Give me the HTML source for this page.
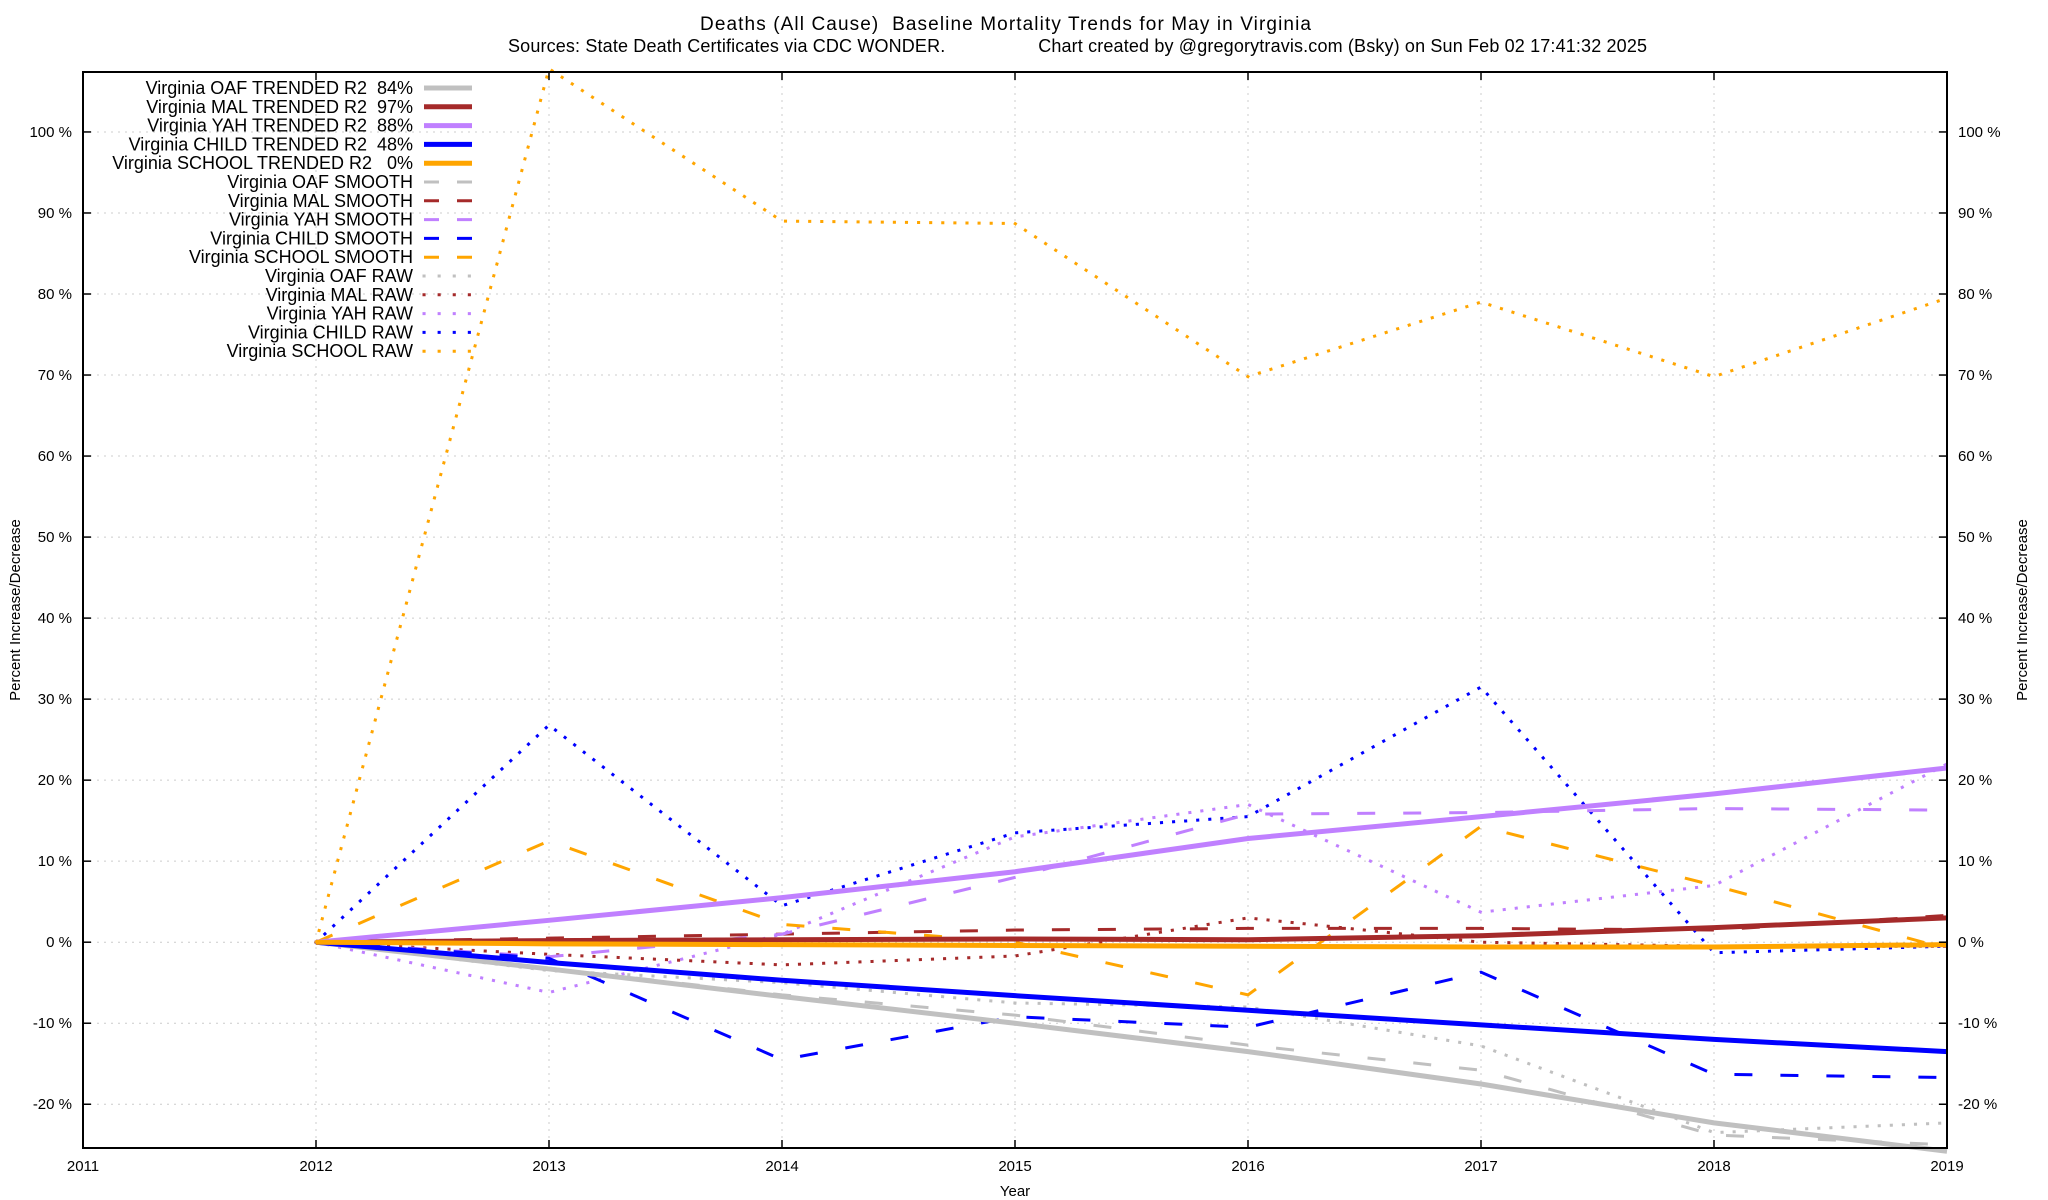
<!DOCTYPE html>
<html><head><meta charset="utf-8">
<style>
html,body{margin:0;padding:0;background:#fff;}
svg{display:block;font-family:"Liberation Sans",Arial,sans-serif;}
text{white-space:pre;}
</style></head>
<body>
<svg id="chart" width="2048" height="1200" viewBox="0 0 2048 1200" xmlns="http://www.w3.org/2000/svg">
<text x="700" y="30" font-size="19" textLength="611" lengthAdjust="spacing">Deaths (All Cause)  Baseline Mortality Trends for May in Virginia</text>
<text x="508" y="52" font-size="18" textLength="1139" lengthAdjust="spacing">Sources: State Death Certificates via CDC WONDER.                  Chart created by @gregorytravis.com (Bsky) on Sun Feb 02 17:41:32 2025</text>
<g id="grid"></g>
<g id="series"></g>
<rect x="83" y="72" width="1864" height="1076" fill="none" stroke="#000" stroke-width="2"/>
<g id="axes"></g>
<g id="legend"></g>
<text transform="translate(20,610) rotate(-90)" font-size="15" text-anchor="middle">Percent Increase/Decrease</text>
<text transform="translate(2027,610) rotate(-90)" font-size="15" text-anchor="middle">Percent Increase/Decrease</text>
<text x="1015" y="1196" font-size="15" text-anchor="middle">Year</text>
</svg>
<script>
const years = [2012,2013,2014,2015,2016,2017,2018,2019];
const xTicks = [2011,2012,2013,2014,2015,2016,2017,2018,2019];
const yTicks = [-20,-10,0,10,20,30,40,50,60,70,80,90,100];
const oafTrend = [0,-3.3,-6.7,-10,-13.5,-17.5,-22.3,-25.8];
const malTrend = [0,0.2,0.3,0.4,0.3,0.8,1.8,3];
const yahTrend = [0,2.7,5.5,8.7,12.8,15.5,18.3,21.5];
const childTrend = [0,-2.5,-4.7,-6.6,-8.4,-10.2,-12,-13.5];
const schoolTrend = [0,-0.2,-0.3,-0.4,-0.5,-0.6,-0.6,-0.3];
const oafSmooth = [0,-3.2,-6.5,-9,-12.7,-15.8,-23.8,-25];
const malSmooth = [0,0.5,1,1.5,1.7,1.7,1.5,3.3];
const yahSmooth = [0,-1.8,1,8,15.8,16,16.5,16.3];
const childSmooth = [0,-2,-14.5,-9.2,-10.5,-3.7,-16.3,-16.7];
const schoolSmooth = [0,12.5,2.2,0,-6.5,14.3,7,-0.8];
const oafRaw = [0,-3.5,-5,-7.5,-8,-12.8,-23.5,-22.3];
const malRaw = [0,-1.5,-2.8,-1.7,3,0,-0.5,-0.5];
const yahRaw = [0,-6.2,1,13,17,3.7,7,22];
const childRaw = [0,26.8,4.5,13.5,15.5,31.5,-1.3,-0.5];
const schoolRaw = [0,107.8,89,88.7,69.8,79,69.8,79.5];

const X0=83,X1=1947,Y0=72,Y1=1148,XMIN=2011,XMAX=2019,YMIN=-25.4,YMAX=107.4;
const xs=v=>X0+(v-XMIN)/(XMAX-XMIN)*(X1-X0);
const ys=v=>Y1-(v-YMIN)/(YMAX-YMIN)*(Y1-Y0);
const NS='http://www.w3.org/2000/svg';
function mk(tag,parent){const e=document.createElementNS(NS,tag);parent.appendChild(e);return e;}
const grid=document.getElementById('grid'),axes=document.getElementById('axes'),ser=document.getElementById('series'),leg=document.getElementById('legend');

yTicks.forEach(t=>{
  const y=ys(t);
  const g=mk('line',grid);
  
  
  g.setAttribute('x1',X0);g.setAttribute('x2',X1);g.setAttribute('y1',y);g.setAttribute('y2',y);
  g.setAttribute('stroke','#ccc');g.setAttribute('stroke-dasharray','2,5');
  [[X0,X0+8],[X1-8,X1]].forEach(p=>{const l=mk('line',axes);
    
    
    l.setAttribute('x1',p[0]);l.setAttribute('x2',p[1]);l.setAttribute('y1',y);l.setAttribute('y2',y);l.setAttribute('stroke','#000');l.setAttribute('stroke-width','1.5');});
  const a=mk('text',axes);
  
  
  a.setAttribute('x',X0-11);a.setAttribute('y',y+5);a.setAttribute('font-size','15');a.setAttribute('text-anchor','end');a.textContent=t+' %';
  const b=mk('text',axes);
  
  
  b.setAttribute('x',X1+11);b.setAttribute('y',y+5);b.setAttribute('font-size','15');b.textContent=t+' %';
});
xTicks.forEach(t=>{
  const x=xs(t);
  const g=mk('line',grid);
  
  
  g.setAttribute('x1',x);g.setAttribute('x2',x);g.setAttribute('y1',Y0);g.setAttribute('y2',Y1);
  g.setAttribute('stroke','#ccc');g.setAttribute('stroke-dasharray','2,5');
  [[Y0,Y0+8],[Y1-8,Y1]].forEach(p=>{const l=mk('line',axes);
    
    
    l.setAttribute('x1',x);l.setAttribute('x2',x);l.setAttribute('y1',p[0]);l.setAttribute('y2',p[1]);l.setAttribute('stroke','#000');l.setAttribute('stroke-width','1.5');});
  const a=mk('text',axes);
  
  
  a.setAttribute('x',x);a.setAttribute('y',Y1+23);a.setAttribute('font-size','15');a.setAttribute('text-anchor','middle');a.textContent=t;
});

const C={oaf:'#c0c0c0',mal:'#a52a2a',yah:'#c080ff',child:'#0000ff',school:'#ffa500'};
const styles={trend:{w:5,d:null},smooth:{w:3,d:'18,28'},raw:{w:3,d:'0.1,12'}};
const series=[
 ['Virginia OAF TRENDED R2  84%',oafTrend,'oaf','trend'],
 ['Virginia MAL TRENDED R2  97%',malTrend,'mal','trend'],
 ['Virginia YAH TRENDED R2  88%',yahTrend,'yah','trend'],
 ['Virginia CHILD TRENDED R2  48%',childTrend,'child','trend'],
 ['Virginia SCHOOL TRENDED R2   0%',schoolTrend,'school','trend'],
 ['Virginia OAF SMOOTH',oafSmooth,'oaf','smooth'],
 ['Virginia MAL SMOOTH',malSmooth,'mal','smooth'],
 ['Virginia YAH SMOOTH',yahSmooth,'yah','smooth'],
 ['Virginia CHILD SMOOTH',childSmooth,'child','smooth'],
 ['Virginia SCHOOL SMOOTH',schoolSmooth,'school','smooth'],
 ['Virginia OAF RAW',oafRaw,'oaf','raw'],
 ['Virginia MAL RAW',malRaw,'mal','raw'],
 ['Virginia YAH RAW',yahRaw,'yah','raw'],
 ['Virginia CHILD RAW',childRaw,'child','raw'],
 ['Virginia SCHOOL RAW',schoolRaw,'school','raw']
];
const order=[10,11,12,13,14,5,6,7,8,9,0,1,2,3,4];
order.forEach(i=>{
  const [name,vals,key,kind]=series[i];const st=styles[kind];
  const p=mk('polyline',ser);
  
  
  p.setAttribute('points',vals.map((v,j)=>xs(years[j])+','+ys(v)).join(' '));
  p.setAttribute('fill','none');p.setAttribute('stroke',C[key]);p.setAttribute('stroke-width',st.w);
  if(st.d){p.setAttribute('stroke-dasharray',st.d);}
  if(kind==='raw'){p.setAttribute('stroke-linecap','square');}
});
series.forEach((s,i)=>{
  const [name,vals,key,kind]=s;const st=styles[kind];const y=88+i*18.8;
  const t=mk('text',leg);
  
  
  t.setAttribute('x',413);t.setAttribute('y',y+6);t.setAttribute('font-size','18');t.setAttribute('text-anchor','end');t.textContent=name;
  const l=mk('line',leg);
  
  
  l.setAttribute('x1',424);l.setAttribute('x2',472);l.setAttribute('y1',y);l.setAttribute('y2',y);
  l.setAttribute('stroke',C[key]);l.setAttribute('stroke-width',st.w);
  if(kind==='smooth')l.setAttribute('stroke-dasharray','15,18');
  if(kind==='raw'){l.setAttribute('stroke-dasharray','0.1,15');l.setAttribute('stroke-linecap','square');}
});
</script>
</body></html>
